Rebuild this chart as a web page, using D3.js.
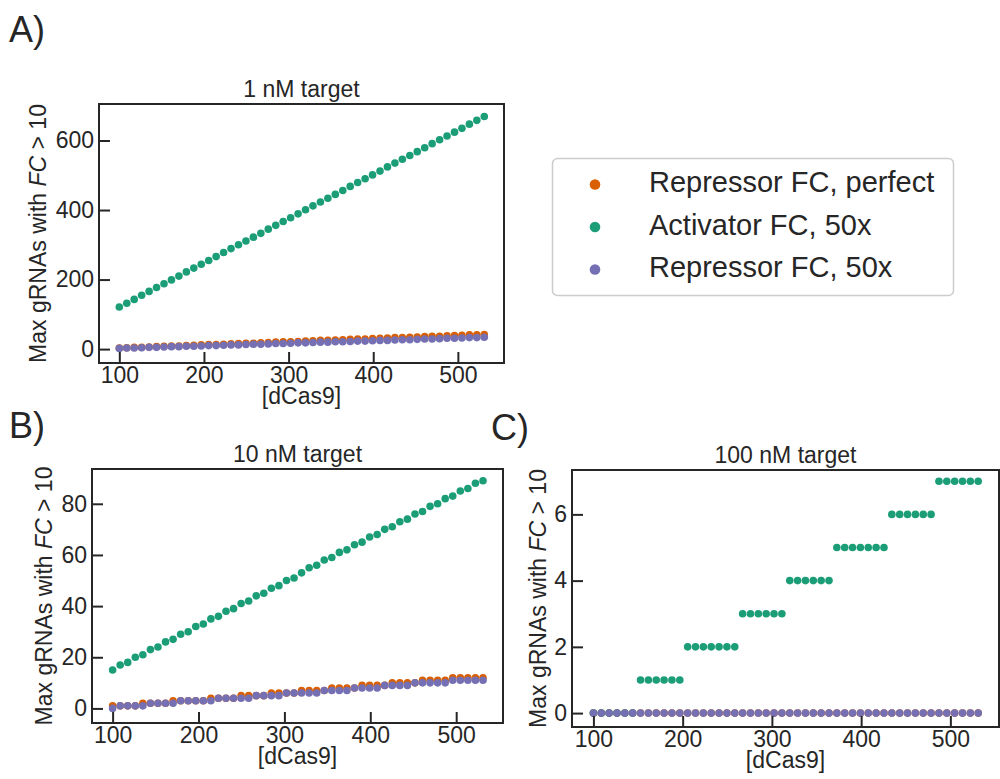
<!DOCTYPE html>
<html>
<head>
<meta charset="utf-8">
<script src="https://cdn.jsdelivr.net/npm/d3@7"></script>
<style>
  body { margin: 0; background: #fff; }
  text { font-family: "Liberation Sans", Arial, sans-serif; fill: #262626; }
</style>
</head>
<body>
<div id="chart"></div>
<script>
// dCas9 concentrations (x), same for every panel
var dCas9 = [100.0, 108.8, 117.6, 126.4, 135.2, 144.0, 152.8, 161.6, 170.4, 179.2,
    188.0, 196.8, 205.6, 214.4, 223.2, 232.0, 240.8, 249.6, 258.4, 267.2,
    276.0, 284.8, 293.6, 302.4, 311.2, 320.0, 328.8, 337.6, 346.4, 355.2,
    364.0, 372.8, 381.6, 390.4, 399.2, 408.0, 416.8, 425.6, 434.4, 443.2,
    452.0, 460.8, 469.6, 478.4, 487.2, 496.0, 504.8, 513.6, 522.4, 531.2];

// 1 nM target
var repPerfect1 = [3, 4, 5, 5, 6, 7, 8, 9, 9, 10, 11, 12, 13, 13, 14, 15, 16, 17, 17, 18,
    19, 20, 21, 21, 22, 23, 24, 25, 25, 26, 27, 28, 29, 29, 30, 31, 32, 33, 33, 34,
    35, 36, 37, 37, 38, 39, 40, 41, 41, 42];
var act50x1 = [121, 132, 143, 155, 166, 177, 188, 199, 210, 222, 233, 244, 255, 266, 278, 289,
    300, 311, 322, 333, 345, 356, 367, 378, 389, 401, 412, 423, 434, 445, 456, 468,
    479, 490, 501, 512, 524, 535, 546, 557, 568, 579, 591, 602, 613, 624, 635, 647, 658, 669];
var rep50x1 = [2, 3, 3, 4, 5, 5, 6, 7, 7, 8, 8, 9, 10, 10, 11, 12, 12, 13, 14, 14,
    15, 16, 16, 17, 18, 18, 19, 20, 20, 21, 21, 22, 23, 23, 24, 25, 25, 26, 27, 27,
    28, 29, 29, 30, 31, 31, 32, 33, 33, 34];

// 10 nM target
var repPerfect10 = [1, 1, 1, 1, 2, 2, 2, 2, 3, 3, 3, 3, 3, 4, 4, 4, 4, 5, 5, 5,
    5, 6, 6, 6, 6, 7, 7, 7, 7, 8, 8, 8, 8, 9, 9, 9, 9, 10, 10, 10,
    10, 11, 11, 11, 11, 12, 12, 12, 12, 12];
var act50x10 = [15, 17, 18, 20, 21, 23, 24, 26, 27, 29, 30, 32, 33, 35, 36, 38, 39, 41, 42, 44,
    45, 47, 48, 50, 51, 53, 55, 56, 58, 59, 61, 62, 64, 65, 67, 68, 70, 71, 73, 74,
    76, 77, 79, 80, 82, 83, 85, 86, 88, 89];
var rep50x10 = [0, 1, 1, 1, 1, 2, 2, 2, 2, 3, 3, 3, 3, 3, 4, 4, 4, 4, 4, 5,
    5, 5, 5, 6, 6, 6, 6, 6, 7, 7, 7, 7, 8, 8, 8, 8, 9, 9, 9, 9,
    10, 10, 10, 10, 10, 11, 11, 11, 11, 11];

// 100 nM target
var repPerfect100 = [0, 0, 0, 0, 0, 0, 0, 0, 0, 0, 0, 0, 0, 0, 0, 0, 0, 0, 0, 0,
    0, 0, 0, 0, 0, 0, 0, 0, 0, 0, 0, 0, 0, 0, 0, 0, 0, 0, 0, 0,
    0, 0, 0, 0, 0, 0, 0, 0, 0, 0];
var act50x100 = [0, 0, 0, 0, 0, 0, 1, 1, 1, 1, 1, 1, 2, 2, 2, 2, 2, 2, 2, 3,
    3, 3, 3, 3, 3, 4, 4, 4, 4, 4, 4, 5, 5, 5, 5, 5, 5, 5, 6, 6,
    6, 6, 6, 6, 7, 7, 7, 7, 7, 7];
var rep50x100 = [0, 0, 0, 0, 0, 0, 0, 0, 0, 0, 0, 0, 0, 0, 0, 0, 0, 0, 0, 0,
    0, 0, 0, 0, 0, 0, 0, 0, 0, 0, 0, 0, 0, 0, 0, 0, 0, 0, 0, 0,
    0, 0, 0, 0, 0, 0, 0, 0, 0, 0];

var seriesNames = ["Repressor FC, perfect", "Activator FC, 50x", "Repressor FC, 50x"];
var colors = ["#d95f02", "#1b9e77", "#7570b3"];

var xTicks = [100, 200, 300, 400, 500];
var yTicksA = [0, 200, 400, 600];
var yTicksB = [0, 20, 40, 60, 80];
var yTicksC = [0, 2, 4, 6];

var titles = ["1 nM target", "10 nM target", "100 nM target"];
var letters = ["A)", "B)", "C)"];

var svg = d3.select("#chart").append("svg")
    .attr("width", 1000)
    .attr("height", 779);

// frame boxes in pixels
var panels = [
    {x0: 99, x1: 504, y0: 104, y1: 363, ydom: [-40, 705], yticks: yTicksA,
     series: [repPerfect1, act50x1, rep50x1], title: titles[0],
     letter: letters[0], lx: 9, ly: 42, ylabX: 46},
    {x0: 92, x1: 503, y0: 469, y1: 723, ydom: [-5.7, 93.6], yticks: yTicksB,
     series: [repPerfect10, act50x10, rep50x10], title: titles[1],
     letter: letters[1], lx: 9, ly: 438, ylabX: 52},
    {x0: 572, x1: 999, y0: 470, y1: 727, ydom: [-0.42, 7.34], yticks: yTicksC,
     series: [repPerfect100, act50x100, rep50x100], title: titles[2],
     letter: letters[2], lx: 491, ly: 440, ylabX: 546}
];

var fs = 23;

panels.forEach(function(p) {
    var x = d3.scaleLinear().domain([76, 554.5]).range([p.x0, p.x1]);
    var y = d3.scaleLinear().domain(p.ydom).range([p.y1, p.y0]);

    var g = svg.append("g");

    // points: orange, green, purple on top
    p.series.forEach(function(vals, si) {
        g.append("g").selectAll("circle")
            .data(vals)
            .enter()
            .append("circle")
            .attr("cx", (d, i) => x(dCas9[i]))
            .attr("cy", d => y(d))
            .attr("r", 3.8)
            .attr("fill", colors[si]);
    });

    var xAxis = d3.axisBottom(x).tickValues(xTicks).tickSize(-11).tickPadding(4);
    var yAxis = d3.axisLeft(y).tickValues(p.yticks).tickSize(-11).tickPadding(5);

    var gx = g.append("g")
        .attr("transform", `translate(0, ${p.y1})`)
        .call(xAxis);
    var gy = g.append("g")
        .attr("transform", `translate(${p.x0}, 0)`)
        .call(yAxis);

    [gx, gy].forEach(function(ax) {
        ax.select(".domain").remove();
        ax.selectAll(".tick line").attr("stroke", "#262626").attr("stroke-width", 2);
        ax.selectAll(".tick text")
            .attr("fill", "#262626")
            .style("font-size", fs + "px")
            .style("font-family", "'Liberation Sans', Arial, sans-serif");
    });

    g.append("rect")
        .attr("x", p.x0)
        .attr("y", p.y0)
        .attr("width", p.x1 - p.x0)
        .attr("height", p.y1 - p.y0)
        .attr("fill", "none")
        .attr("stroke", "#262626")
        .attr("stroke-width", 2);

    g.append("text")
        .attr("x", (p.x0 + p.x1) / 2)
        .attr("y", p.y0 - 7)
        .attr("text-anchor", "middle")
        .style("font-size", fs + "px")
        .text(p.title);

    g.append("text")
        .attr("x", (p.x0 + p.x1) / 2)
        .attr("y", p.y1 + 41)
        .attr("text-anchor", "middle")
        .style("font-size", fs + "px")
        .text("[dCas9]");

    var yl = g.append("text")
        .attr("transform", `translate(${p.ylabX}, ${(p.y0 + p.y1) / 2}) rotate(-90)`)
        .attr("text-anchor", "middle")
        .style("font-size", fs + "px");
    yl.append("tspan").text("Max gRNAs with ");
    yl.append("tspan").style("font-style", "italic").text("FC");
    yl.append("tspan").text(" > 10");

    svg.append("text")
        .attr("x", p.lx)
        .attr("y", p.ly)
        .style("font-size", "36px")
        .text(p.letter);
});

// legend
var legend = svg.append("g");
legend.append("rect")
    .attr("x", 552.5)
    .attr("y", 158.5)
    .attr("width", 401)
    .attr("height", 137)
    .attr("rx", 5)
    .attr("fill", "#fff")
    .attr("stroke", "#cccccc")
    .attr("stroke-width", 1.5);

seriesNames.forEach(function(name, i) {
    var cy = 184.5 + i * 42.5;
    legend.append("circle")
        .attr("cx", 595)
        .attr("cy", cy)
        .attr("r", 5.3)
        .attr("fill", colors[i]);
    legend.append("text")
        .attr("x", 649)
        .attr("y", cy + 7.5)
        .style("font-size", "29px")
        .text(name);
});
</script>
</body>
</html>
